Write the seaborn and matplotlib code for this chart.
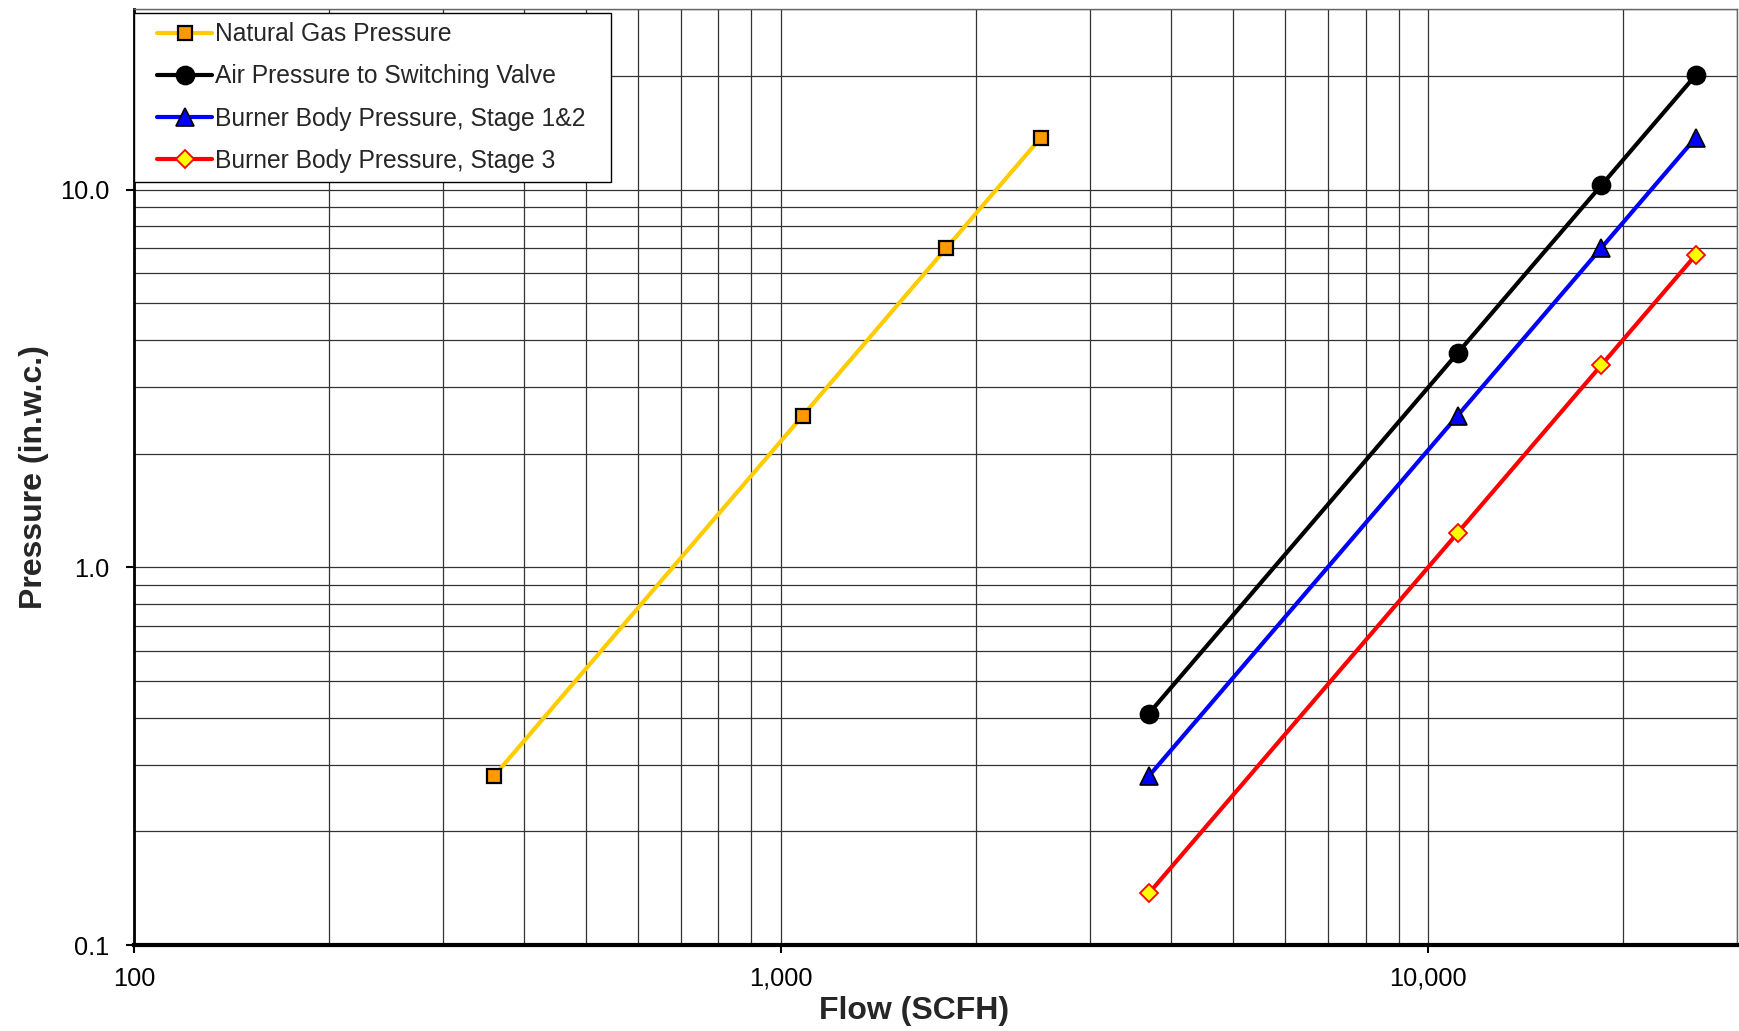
import numpy as np
import pandas as pd
import matplotlib
matplotlib.use("Agg")
import matplotlib.pyplot as plt
import matplotlib.ticker as mticker
from matplotlib.lines import Line2D
from matplotlib.legend_handler import HandlerLine2D
import seaborn as sns

# ---- data ----
gas_flow = [360, 1080, 1800, 2520]
gas_pressure = [0.28, 2.52, 7.0, 13.72]

air_flow = [3700, 11100, 18500, 25900]
air_pressure = [0.41, 3.69, 10.25, 20.09]

stage12_flow = [3700, 11100, 18500, 25900]
stage12_pressure = [0.28, 2.52, 7.0, 13.72]

stage3_flow = [3700, 11100, 18500, 25900]
stage3_pressure = [0.137, 1.233, 3.425, 6.713]

series_names = ["Natural Gas Pressure", "Air Pressure to Switching Valve",
                "Burner Body Pressure, Stage 1&2", "Burner Body Pressure, Stage 3"]

x_ticks = [100, 1000, 10000]
y_ticks = [0.1, 1.0, 10.0]

sns.set_style("white")
plt.rcParams['font.family'] = ['Liberation Sans', 'DejaVu Sans']

fig = plt.figure(figsize=(17.39, 10.31), dpi=100)
ax = fig.add_axes([0.077, 0.0834, 0.9219, 0.9076])

styles = [
    dict(color="#FFCC00", marker="s", markerfacecolor="#FF9900", markeredgecolor="black",
         markersize=10.5, markeredgewidth=1.6),
    dict(color="black", marker="o", markerfacecolor="black", markeredgecolor="black",
         markersize=13, markeredgewidth=1.2),
    dict(color="#0000FF", marker="^", markerfacecolor="#0000FF", markeredgecolor="black",
         markersize=13.5, markeredgewidth=1.2),
    dict(color="#FF0000", marker="D", markerfacecolor="#FFFF00", markeredgecolor="#FF0000",
         markersize=9.5, markeredgewidth=1.3),
]
data = [(gas_flow, gas_pressure), (air_flow, air_pressure),
        (stage12_flow, stage12_pressure), (stage3_flow, stage3_pressure)]

for (xs, ys), name, st in zip(data, series_names, styles):
    df = pd.DataFrame({"Flow": xs, "Pressure": ys})
    sns.lineplot(data=df, x="Flow", y="Pressure", ax=ax, label=name, sort=False,
                 estimator=None, linewidth=3.0, zorder=5, **st)

ax.set_xscale("log")
ax.set_yscale("log")
ax.set_xlim(100, 30000)
ax.set_ylim(0.1, 30)

ax.xaxis.set_major_locator(mticker.FixedLocator(x_ticks))
ax.yaxis.set_major_locator(mticker.FixedLocator(y_ticks))
ax.xaxis.set_minor_locator(mticker.LogLocator(base=10, subs=np.arange(2, 10)))
ax.yaxis.set_minor_locator(mticker.LogLocator(base=10, subs=np.arange(2, 10)))
ax.xaxis.set_major_formatter(mticker.FuncFormatter(lambda v, p: f"{v:,.0f}"))
ax.yaxis.set_major_formatter(mticker.FuncFormatter(lambda v, p: f"{v:.1f}"))
ax.xaxis.set_minor_formatter(mticker.NullFormatter())
ax.yaxis.set_minor_formatter(mticker.NullFormatter())

ax.grid(True, which="both", color="#333333", linewidth=0.9)
ax.set_axisbelow(True)

ax.tick_params(axis="both", which="major", direction="out", length=6, width=1.5,
               labelsize=18.3, colors="black", bottom=True, left=True)
ax.tick_params(axis="x", which="major", pad=9.5)
ax.tick_params(axis="y", which="major", pad=11.5)
ax.tick_params(axis="both", which="minor", length=0)

for side in ["top", "right"]:
    ax.spines[side].set_color("#666666")
    ax.spines[side].set_linewidth(1.0)
ax.spines["left"].set_color("black")
ax.spines["left"].set_linewidth(2.0)
ax.spines["bottom"].set_color("black")
ax.spines["bottom"].set_linewidth(3.0)

ax.set_xlabel("Flow (SCFH)", fontsize=23, fontweight="bold", labelpad=5)
ax.set_ylabel("Pressure (in.w.c.)", fontsize=23, fontweight="bold", labelpad=8)
ax.xaxis.set_label_coords(0.4866, -0.054)

leg = ax.legend(loc="upper left", bbox_to_anchor=(-0.0023, 1.0, 0.302, 0.0),
                mode="expand", fontsize=17.7, frameon=True, fancybox=False,
                framealpha=1, edgecolor="black", borderaxespad=0.15,
                handlelength=2.8, handletextpad=0.1, labelspacing=0.74,
                borderpad=0.38, handler_map={Line2D: HandlerLine2D(xpad=0.57)})
leg.get_frame().set_linewidth(1.0)
leg.set_zorder(10)

fig.savefig("out.png", dpi=100)
